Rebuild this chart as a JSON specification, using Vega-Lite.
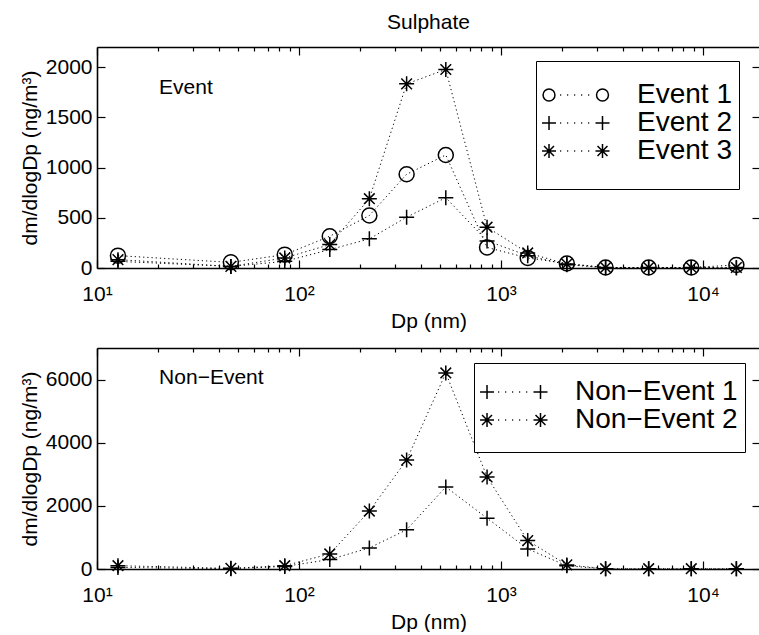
{
  "$schema": "https://vega.github.io/schema/vega-lite/v6.json",
  "padding": {"left": 19, "top": 12, "right": 0, "bottom": 0},
  "background": "white",
  "config": {
    "font": "Liberation Sans",
    "view": {"stroke": null},
    "axis": {
      "labelFont": "Liberation Sans", "titleFont": "Liberation Sans",
      "labelFontSize": 21, "titleFontSize": 21, "titleFontWeight": "normal",
      "labelColor": "black", "titleColor": "black", "domainColor": "black", "tickColor": "black",
      "domainWidth": 1.6, "tickWidth": 1.2, "grid": false,
      "labelFlush": false, "labelOverlap": false, "labelBound": false
    }
  },
  "datasets": {
    "event": [
      {"Dp": 12.7, "value": 123, "series": "Event 1"},
      {"Dp": 46, "value": 56, "series": "Event 1"},
      {"Dp": 85, "value": 133, "series": "Event 1"},
      {"Dp": 142, "value": 316, "series": "Event 1"},
      {"Dp": 223, "value": 523, "series": "Event 1"},
      {"Dp": 341, "value": 933, "series": "Event 1"},
      {"Dp": 533, "value": 1125, "series": "Event 1"},
      {"Dp": 853, "value": 205, "series": "Event 1"},
      {"Dp": 1356, "value": 100, "series": "Event 1"},
      {"Dp": 2118, "value": 45, "series": "Event 1"},
      {"Dp": 3295, "value": 5, "series": "Event 1"},
      {"Dp": 5383, "value": 5, "series": "Event 1"},
      {"Dp": 8750, "value": 5, "series": "Event 1"},
      {"Dp": 14630, "value": 30, "series": "Event 1"},
      {"Dp": 12.7, "value": 66, "series": "Event 2"},
      {"Dp": 46, "value": 16, "series": "Event 2"},
      {"Dp": 85, "value": 66, "series": "Event 2"},
      {"Dp": 142, "value": 183, "series": "Event 2"},
      {"Dp": 223, "value": 290, "series": "Event 2"},
      {"Dp": 341, "value": 506, "series": "Event 2"},
      {"Dp": 533, "value": 700, "series": "Event 2"},
      {"Dp": 853, "value": 270, "series": "Event 2"},
      {"Dp": 1356, "value": 123, "series": "Event 2"},
      {"Dp": 2118, "value": 33, "series": "Event 2"},
      {"Dp": 3295, "value": 3, "series": "Event 2"},
      {"Dp": 5383, "value": 3, "series": "Event 2"},
      {"Dp": 8750, "value": 3, "series": "Event 2"},
      {"Dp": 14630, "value": 0, "series": "Event 2"},
      {"Dp": 12.7, "value": 83, "series": "Event 3"},
      {"Dp": 46, "value": 16, "series": "Event 3"},
      {"Dp": 85, "value": 100, "series": "Event 3"},
      {"Dp": 142, "value": 233, "series": "Event 3"},
      {"Dp": 223, "value": 690, "series": "Event 3"},
      {"Dp": 341, "value": 1833, "series": "Event 3"},
      {"Dp": 533, "value": 1976, "series": "Event 3"},
      {"Dp": 853, "value": 406, "series": "Event 3"},
      {"Dp": 1356, "value": 150, "series": "Event 3"},
      {"Dp": 2118, "value": 40, "series": "Event 3"},
      {"Dp": 3295, "value": 5, "series": "Event 3"},
      {"Dp": 5383, "value": 5, "series": "Event 3"},
      {"Dp": 8750, "value": 5, "series": "Event 3"},
      {"Dp": 14630, "value": 5, "series": "Event 3"}
    ],
    "nonevent": [
      {"Dp": 12.7, "value": 50, "series": "Non−Event 1"},
      {"Dp": 46, "value": 10, "series": "Non−Event 1"},
      {"Dp": 85, "value": 80, "series": "Non−Event 1"},
      {"Dp": 142, "value": 300, "series": "Non−Event 1"},
      {"Dp": 223, "value": 668, "series": "Non−Event 1"},
      {"Dp": 341, "value": 1242, "series": "Non−Event 1"},
      {"Dp": 533, "value": 2599, "series": "Non−Event 1"},
      {"Dp": 853, "value": 1611, "series": "Non−Event 1"},
      {"Dp": 1356, "value": 636, "series": "Non−Event 1"},
      {"Dp": 2118, "value": 100, "series": "Non−Event 1"},
      {"Dp": 3295, "value": 5, "series": "Non−Event 1"},
      {"Dp": 5383, "value": 5, "series": "Non−Event 1"},
      {"Dp": 8750, "value": 5, "series": "Non−Event 1"},
      {"Dp": 14630, "value": 5, "series": "Non−Event 1"},
      {"Dp": 12.7, "value": 105, "series": "Non−Event 2"},
      {"Dp": 46, "value": 20, "series": "Non−Event 2"},
      {"Dp": 85, "value": 105, "series": "Non−Event 2"},
      {"Dp": 142, "value": 477, "series": "Non−Event 2"},
      {"Dp": 223, "value": 1835, "series": "Non−Event 2"},
      {"Dp": 341, "value": 3449, "series": "Non−Event 2"},
      {"Dp": 533, "value": 6210, "series": "Non−Event 2"},
      {"Dp": 853, "value": 2917, "series": "Non−Event 2"},
      {"Dp": 1356, "value": 900, "series": "Non−Event 2"},
      {"Dp": 2118, "value": 130, "series": "Non−Event 2"},
      {"Dp": 3295, "value": 10, "series": "Non−Event 2"},
      {"Dp": 5383, "value": 10, "series": "Non−Event 2"},
      {"Dp": 8750, "value": 10, "series": "Non−Event 2"},
      {"Dp": 14630, "value": 10, "series": "Non−Event 2"}
    ]
  },
  "spacing": 16,
  "resolve": {"scale": {"shape": "independent"}, "legend": {"shape": "independent"}},
  "vconcat": [
    {
      "width": 663, "height": 221,
      "title": {"text": "Sulphate", "font": "Liberation Sans", "fontSize": 21, "fontWeight": "normal", "color": "black", "anchor": "middle", "frame": "group", "offset": 13},
      "resolve": {"axis": {"x": "independent", "y": "independent"}, "scale": {"shape": "independent"}, "legend": {"shape": "independent"}},
      "layer": [
        {
          "data": {"name": "event"},
          "mark": {"type": "line", "color": "black", "strokeWidth": 1, "strokeDash": [1.2, 3]},
          "encoding": {
            "x": {"field": "Dp", "type": "quantitative", "scale": {"type": "log", "domain": [10, 19150], "nice": false},
              "axis": {"orient": "bottom", "values": [10, 100, 1000, 10000], "labelExpr": "datum.value == 10 ? '10¹' : datum.value == 100 ? '10²' : datum.value == 1000 ? '10³' : '10⁴'", "ticks": false, "domain": true, "labelPadding": 15, "title": "Dp (nm)", "titlePadding": 6}},
            "y": {"field": "value", "type": "quantitative", "scale": {"domain": [0, 2200], "nice": false},
              "axis": {"orient": "left", "values": [0, 500, 1000, 1500, 2000], "format": "d", "ticks": false, "domain": true, "labelPadding": 5, "title": "dm/dlogDp (ng/m³)", "titlePadding": 5}},
            "detail": {"field": "series"}
          }
        },
        {
          "data": {"name": "event"},
          "mark": {"type": "point", "filled": false, "color": "black", "strokeWidth": 1.5, "size": 225, "opacity": 1},
          "encoding": {
            "x": {"field": "Dp", "type": "quantitative", "scale": {"type": "log", "domain": [10, 19150], "nice": false},
              "axis": {"orient": "bottom", "values": [10, 20, 30, 40, 50, 60, 70, 80, 90, 100, 200, 300, 400, 500, 600, 700, 800, 900, 1000, 2000, 3000, 4000, 5000, 6000, 7000, 8000, 9000, 10000], "labels": false, "domain": false, "title": null,
                "tickSize": {"condition": {"test": "datum.value == 10 || datum.value == 100 || datum.value == 1000 || datum.value == 10000", "value": -8}, "value": -4}}},
            "y": {"field": "value", "type": "quantitative", "scale": {"domain": [0, 2200], "nice": false},
              "axis": {"orient": "left", "values": [0, 500, 1000, 1500, 2000], "labels": false, "domain": false, "tickSize": -8, "title": null}},
            "shape": {"field": "series", "type": "nominal", "legend": null,
              "scale": {"domain": ["Event 3", "Event 1", "Event 2"], "range": ["M-1,0L1,0M0,-1L0,1M-0.71,-0.71L0.71,0.71M-0.71,0.71L0.71,-0.71", "circle", "M-1,0L1,0M0,-1L0,1"]}}
          }
        },
        {
          "data": {"name": "event"},
          "mark": {"type": "point", "filled": false, "color": "black", "strokeWidth": 1.5, "opacity": 0},
          "encoding": {
            "x": {"field": "Dp", "type": "quantitative", "scale": {"type": "log", "domain": [10, 19150], "nice": false}, "axis": null},
            "y": {"field": "value", "type": "quantitative", "scale": {"domain": [0, 2200], "nice": false}, "axis": null},
            "shape": {"field": "series", "type": "nominal",
              "scale": {"domain": ["Event 1", "Event 2", "Event 3"], "range": [
                "M-1.99,0A0.85,0.85 0 1,0 -0.29,0A0.85,0.85 0 1,0 -1.99,0M0.45,0L0.6,0M1.45,0L1.6,0M2.45,0L2.6,0M3.45,0L3.6,0M4.45,0L4.6,0M5.65,0A0.85,0.85 0 1,0 7.35,0A0.85,0.85 0 1,0 5.65,0",
                "M-2.14,0L-0.14,0M-1.14,-1L-1.14,1M0.45,0L0.6,0M1.45,0L1.6,0M2.45,0L2.6,0M3.45,0L3.6,0M4.45,0L4.6,0M5.5,0L7.5,0M6.5,-1L6.5,1",
                "M-1.14,3.86M-2.14,0L-0.14,0M-1.14,-1L-1.14,1M-1.85,-0.71L-0.43,0.71M-1.85,0.71L-0.43,-0.71M0.45,0L0.6,0M1.45,0L1.6,0M2.45,0L2.6,0M3.45,0L3.6,0M4.45,0L4.6,0M5.5,0L7.5,0M6.5,-1L6.5,1M5.79,-0.71L7.21,0.71M5.79,0.71L7.21,-0.71"]},
              "legend": {
                "orient": "none", "legendX": 439, "legendY": 14, "title": " ",
                "titleFont": "Liberation Sans", "titleFontSize": 10, "titlePadding": 3, "titleColor": "white",
                "strokeColor": "black", "fillColor": "white", "padding": 7,
                "labelFont": "Liberation Sans", "labelFontSize": 28, "labelColor": "black", "labelOffset": 66, "labelLimit": 400,
                "symbolStrokeColor": "black", "symbolStrokeWidth": 1.5, "symbolFillColor": "transparent", "symbolOpacity": 1, "symbolSize": 196, "rowPadding": 0
              }}
          }
        },
        {
          "data": {"values": [{"Dp": 20.3, "value": 1793, "label": "Event"}]},
          "mark": {"type": "text", "align": "left", "baseline": "middle", "font": "Liberation Sans", "fontSize": 21, "color": "black"},
          "encoding": {
            "x": {"field": "Dp", "type": "quantitative", "scale": {"type": "log", "domain": [10, 19150], "nice": false},
              "axis": {"orient": "top", "values": [10, 20, 30, 40, 50, 60, 70, 80, 90, 100, 200, 300, 400, 500, 600, 700, 800, 900, 1000, 2000, 3000, 4000, 5000, 6000, 7000, 8000, 9000, 10000], "labels": false, "domain": true, "title": null,
                "tickSize": {"condition": {"test": "datum.value == 10 || datum.value == 100 || datum.value == 1000 || datum.value == 10000", "value": -8}, "value": -4}}},
            "y": {"field": "value", "type": "quantitative", "scale": {"domain": [0, 2200], "nice": false},
              "axis": {"orient": "right", "values": [0, 500, 1000, 1500, 2000], "labels": false, "domain": false, "tickSize": -8, "title": null}},
            "text": {"field": "label"}
          }
        }
      ]
    },
    {
      "width": 663, "height": 221,
      "resolve": {"axis": {"x": "independent", "y": "independent"}, "scale": {"shape": "independent"}, "legend": {"shape": "independent"}},
      "layer": [
        {
          "data": {"name": "nonevent"},
          "mark": {"type": "line", "color": "black", "strokeWidth": 1, "strokeDash": [1.2, 3]},
          "encoding": {
            "x": {"field": "Dp", "type": "quantitative", "scale": {"type": "log", "domain": [10, 19150], "nice": false},
              "axis": {"orient": "bottom", "values": [10, 100, 1000, 10000], "labelExpr": "datum.value == 10 ? '10¹' : datum.value == 100 ? '10²' : datum.value == 1000 ? '10³' : '10⁴'", "ticks": false, "domain": true, "labelPadding": 15, "title": "Dp (nm)", "titlePadding": 6}},
            "y": {"field": "value", "type": "quantitative", "scale": {"domain": [0, 7000], "nice": false},
              "axis": {"orient": "left", "values": [0, 2000, 4000, 6000], "format": "d", "ticks": false, "domain": true, "labelPadding": 5, "title": "dm/dlogDp (ng/m³)", "titlePadding": 5}},
            "detail": {"field": "series"}
          }
        },
        {
          "data": {"name": "nonevent"},
          "mark": {"type": "point", "filled": false, "color": "black", "strokeWidth": 1.5, "size": 225, "opacity": 1},
          "encoding": {
            "x": {"field": "Dp", "type": "quantitative", "scale": {"type": "log", "domain": [10, 19150], "nice": false},
              "axis": {"orient": "bottom", "values": [10, 20, 30, 40, 50, 60, 70, 80, 90, 100, 200, 300, 400, 500, 600, 700, 800, 900, 1000, 2000, 3000, 4000, 5000, 6000, 7000, 8000, 9000, 10000], "labels": false, "domain": false, "title": null,
                "tickSize": {"condition": {"test": "datum.value == 10 || datum.value == 100 || datum.value == 1000 || datum.value == 10000", "value": -8}, "value": -4}}},
            "y": {"field": "value", "type": "quantitative", "scale": {"domain": [0, 7000], "nice": false},
              "axis": {"orient": "left", "values": [0, 2000, 4000, 6000], "labels": false, "domain": false, "tickSize": -8, "title": null}},
            "shape": {"field": "series", "type": "nominal", "legend": null,
              "scale": {"domain": ["Non−Event 2", "Non−Event 1"], "range": ["M-1,0L1,0M0,-1L0,1M-0.71,-0.71L0.71,0.71M-0.71,0.71L0.71,-0.71", "M-1,0L1,0M0,-1L0,1"]}}
          }
        },
        {
          "data": {"name": "nonevent"},
          "mark": {"type": "point", "filled": false, "color": "black", "strokeWidth": 1.5, "opacity": 0},
          "encoding": {
            "x": {"field": "Dp", "type": "quantitative", "scale": {"type": "log", "domain": [10, 19150], "nice": false}, "axis": null},
            "y": {"field": "value", "type": "quantitative", "scale": {"domain": [0, 7000], "nice": false}, "axis": null},
            "shape": {"field": "series", "type": "nominal",
              "scale": {"domain": ["Non−Event 1", "Non−Event 2"], "range": [
                "M-2.14,0L-0.14,0M-1.14,-1L-1.14,1M0.45,0L0.6,0M1.45,0L1.6,0M2.45,0L2.6,0M3.45,0L3.6,0M4.45,0L4.6,0M5.5,0L7.5,0M6.5,-1L6.5,1",
                "M-1.14,3.14M-2.14,0L-0.14,0M-1.14,-1L-1.14,1M-1.85,-0.71L-0.43,0.71M-1.85,0.71L-0.43,-0.71M0.45,0L0.6,0M1.45,0L1.6,0M2.45,0L2.6,0M3.45,0L3.6,0M4.45,0L4.6,0M5.5,0L7.5,0M6.5,-1L6.5,1M5.79,-0.71L7.21,0.71M5.79,0.71L7.21,-0.71"]},
              "legend": {
                "orient": "none", "legendX": 377, "legendY": 15, "title": " ",
                "titleFont": "Liberation Sans", "titleFontSize": 6, "titlePadding": 2, "titleColor": "white",
                "strokeColor": "black", "fillColor": "white", "padding": 7,
                "labelFont": "Liberation Sans", "labelFontSize": 28, "labelColor": "black", "labelOffset": 66, "labelLimit": 400,
                "symbolStrokeColor": "black", "symbolStrokeWidth": 1.5, "symbolFillColor": "transparent", "symbolOpacity": 1, "symbolSize": 196, "rowPadding": 0
              }}
          }
        },
        {
          "data": {"values": [{"Dp": 20.3, "value": 6040, "label": "Non−Event"}]},
          "mark": {"type": "text", "align": "left", "baseline": "middle", "font": "Liberation Sans", "fontSize": 21, "color": "black"},
          "encoding": {
            "x": {"field": "Dp", "type": "quantitative", "scale": {"type": "log", "domain": [10, 19150], "nice": false},
              "axis": {"orient": "top", "values": [10, 20, 30, 40, 50, 60, 70, 80, 90, 100, 200, 300, 400, 500, 600, 700, 800, 900, 1000, 2000, 3000, 4000, 5000, 6000, 7000, 8000, 9000, 10000], "labels": false, "domain": true, "title": null,
                "tickSize": {"condition": {"test": "datum.value == 10 || datum.value == 100 || datum.value == 1000 || datum.value == 10000", "value": -8}, "value": -4}}},
            "y": {"field": "value", "type": "quantitative", "scale": {"domain": [0, 7000], "nice": false},
              "axis": {"orient": "right", "values": [0, 2000, 4000, 6000], "labels": false, "domain": false, "tickSize": -8, "title": null}},
            "text": {"field": "label"}
          }
        }
      ]
    }
  ]
}
